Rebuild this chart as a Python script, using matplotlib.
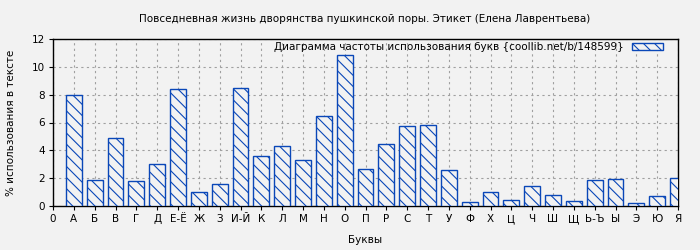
import matplotlib
matplotlib.use("Agg")
import matplotlib.pyplot as plt

letters = ["А", "Б", "В", "Г", "Д", "Е-Ё", "Ж", "З", "И-Й", "К", "Л", "М", "Н", "О", "П",
           "Р", "С", "Т", "У", "Ф", "Х", "Ц", "Ч", "Ш", "Щ", "Ь-Ъ", "Ы", "Э", "Ю", "Я"]
values = [8.0, 1.85, 4.87, 1.78, 3.0, 8.4, 0.98, 1.56, 8.47, 3.58, 4.3, 3.29, 6.46, 10.85, 2.64,
          4.44, 5.74, 5.81, 2.57, 0.26, 0.98, 0.41, 1.42, 0.77, 0.34, 1.85, 1.92, 0.19, 0.70, 1.99]
title = "Повседневная жизнь дворянства пушкинской поры. Этикет (Елена Лаврентьева)"
legend_label = "Диаграмма частоты использования букв {coollib.net/b/148599}"

bg = "#f2f2f2"
blue = "#0a47b8"
plt.rcParams["font.family"] = ["DejaVu Sans"]
plt.rcParams["font.size"] = 7.5
plt.rcParams["hatch.color"] = blue
plt.rcParams["hatch.linewidth"] = 0.8

fig = plt.figure(figsize=(7, 2.5), dpi=100, facecolor=bg)
ax = fig.add_axes([53/700, 44/250, 625/700, 167/250])
ax.set_facecolor(bg)

pos = list(range(1, len(letters) + 1))
ax.bar(pos, values, width=0.76, facecolor=bg, edgecolor=blue, linewidth=1.0,
       hatch="\\\\\\", label=legend_label, zorder=3)

ax.set_xlim(0, len(letters))
ax.set_ylim(0, 12)
ax.set_xticks([0] + pos)
ax.set_xticklabels(["0"] + letters)
ax.set_yticks(range(0, 13, 2))
ax.tick_params(direction="out", length=3, width=0.8, pad=3)
ax.grid(True, color="#a0a0a0", linestyle=(0, (2, 3)), linewidth=0.8, zorder=0)
for s in ax.spines.values():
    s.set_linewidth(1.0)

ax.set_xlabel("Буквы", labelpad=8)
ax.set_ylabel("% использования в тексте", labelpad=11)
fig.text(365/700, 1 - 19/250, title, ha="center", va="center", fontsize=7.5)

ax.legend(loc="upper right", frameon=False, markerfirst=False, handlelength=3.0,
          handleheight=0.7, borderaxespad=0.0, borderpad=0.3, handletextpad=0.8,
          fontsize=7.5, bbox_to_anchor=(1 - 12/625, 1.0))

fig.savefig("out.png", dpi=100, facecolor=bg)
